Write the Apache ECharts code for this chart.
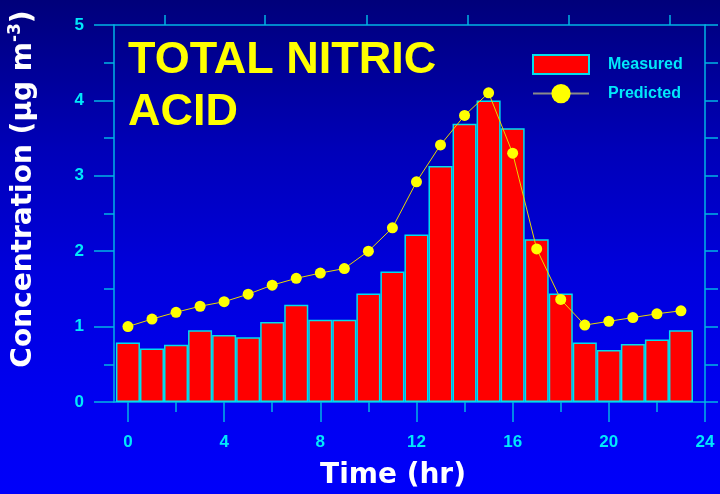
<!DOCTYPE html>
<html>
<head>
<meta charset="utf-8">
<script src="https://cdn.jsdelivr.net/npm/echarts@6/dist/echarts.min.js"></script>
<style>
  html, body { margin: 0; padding: 0; }
  #chart {
    width: 720px; height: 494px;
    background: linear-gradient(to bottom, #00007a 0%, #0000b8 30%, #0000dc 55%, #0000f0 80%, #0000fa 100%);
  }
</style>
</head>
<body>
<div id="chart"></div>
<script>
// Hourly total nitric acid concentration (µg m-3)
const hours = [0,1,2,3,4,5,6,7,8,9,10,11,12,13,14,15,16,17,18,19,20,21,22,23];
const measured = [0.79,0.71,0.76,0.95,0.89,0.86,1.06,1.29,1.09,1.09,1.44,1.73,2.22,3.13,3.69,4.00,3.63,2.16,1.44,0.79,0.69,0.77,0.83,0.95];
const predicted = [1.00,1.10,1.19,1.27,1.33,1.43,1.55,1.64,1.71,1.77,2.00,2.31,2.92,3.41,3.80,4.10,3.30,2.03,1.36,1.02,1.07,1.12,1.17,1.21];

// Axis tick positions (hours)
const xMajorTicks = [0,4,8,12,16,20,24];
const xMinorTicks = [2,6,10,14,18,22];
const xTopTicks = [1.51,5.71,9.92,14.12,18.32,22.52];

const AXIS = '#00b4e4';
const LABEL = '#00e8fa';
const X_MIN = -0.58, X_MAX = 24;

const chart = echarts.init(document.getElementById('chart'), null, { renderer: 'canvas' });

const tickFont = { color: LABEL, fontFamily: 'Liberation Sans, Arial, sans-serif', fontWeight: 'bold', fontSize: 17 };
const legendText = { color: LABEL, fontFamily: 'Liberation Sans, Arial, sans-serif', fontWeight: 'bold', fontSize: 16, padding: [0, 0, 0, 14] };

chart.setOption({
  backgroundColor: 'transparent',
  animation: false,
  grid: { left: 114, right: 15, top: 25, bottom: 92, containLabel: false },
  xAxis: [
    {
      type: 'value', position: 'bottom', min: X_MIN, max: X_MAX,
      axisLine: { show: true, onZero: false, lineStyle: { color: AXIS, width: 1.5 } },
      axisTick: { show: true, inside: false, customValues: xMajorTicks, length: 20, lineStyle: { color: AXIS, width: 1.5 } },
      axisLabel: Object.assign({ customValues: xMajorTicks, margin: 32 }, tickFont),
      splitLine: { show: false }
    },
    {
      type: 'value', position: 'bottom', min: X_MIN, max: X_MAX,
      axisLine: { show: false, onZero: false },
      axisTick: { show: true, inside: false, customValues: xMinorTicks, length: 10, lineStyle: { color: AXIS, width: 1.5 } },
      axisLabel: { show: false },
      splitLine: { show: false }
    },
    {
      type: 'value', position: 'top', min: X_MIN, max: X_MAX,
      axisLine: { show: true, onZero: false, lineStyle: { color: AXIS, width: 1.5 } },
      axisTick: { show: true, inside: false, customValues: xTopTicks, length: 10, lineStyle: { color: AXIS, width: 1.5 } },
      axisLabel: { show: false },
      splitLine: { show: false }
    }
  ],
  yAxis: [
    {
      type: 'value', position: 'left', min: 0, max: 5, interval: 1,
      axisLine: { show: true, onZero: false, lineStyle: { color: AXIS, width: 1.5 } },
      axisTick: { show: true, inside: false, length: 20, lineStyle: { color: AXIS, width: 1.5 } },
      minorTick: { show: true, splitNumber: 2, length: 10, lineStyle: { color: AXIS, width: 1.5 } },
      axisLabel: Object.assign({ margin: 30 }, tickFont),
      splitLine: { show: false }, minorSplitLine: { show: false }
    },
    {
      type: 'value', position: 'right', min: 0, max: 5, interval: 0.5,
      axisLine: { show: true, onZero: false, lineStyle: { color: AXIS, width: 1.5 } },
      axisTick: { show: true, inside: false, length: 13, lineStyle: { color: AXIS, width: 1.5 } },
      axisLabel: { show: false },
      splitLine: { show: false }
    }
  ],
  legend: [
    {
      data: [{ name: 'Measured', icon: 'rect' }], orient: 'vertical', left: 532, top: 54, padding: 0,
      itemWidth: 56, itemHeight: 19,
      textStyle: legendText
    },
    {
      data: [{ name: 'Predicted', lineStyle: { color: '#8a8a8a', width: 2 } }],
      orient: 'vertical', left: 532, top: 84, padding: 0,
      itemWidth: 56, itemHeight: 24,
      textStyle: legendText
    }
  ],
  graphic: [
    {
      type: 'text', left: 128, top: 35, z: 100,
      style: {
        text: 'TOTAL NITRIC\nACID', fill: '#ffff00',
        font: 'bold 45px "Liberation Sans", Arial, sans-serif', lineHeight: 52
      }
    },
    {
      type: 'text', x: 24, y: 189, rotation: Math.PI / 2, z: 100,
      style: {
        text: 'Concentration (µg m{sup|-3})', fill: '#ffffff',
        font: 'bold 28px "DejaVu Sans", sans-serif', align: 'center', verticalAlign: 'middle',
        rich: { sup: { fill: '#ffffff', fontFamily: 'DejaVu Sans', fontWeight: 'bold', fontSize: 17, verticalAlign: 'top', lineHeight: 34 } }
      }
    },
    {
      type: 'text', x: 393, y: 476, z: 100,
      style: {
        text: 'Time (hr)', fill: '#ffffff',
        font: 'bold 28px "DejaVu Sans", sans-serif', align: 'center', verticalAlign: 'middle'
      }
    }
  ],
  series: [
    {
      name: 'Measured', type: 'bar', xAxisIndex: 0, yAxisIndex: 0,
      data: hours.map((h, i) => [h, measured[i]]),
      barWidth: '100%',
      itemStyle: { color: '#ff0000', borderColor: '#00e0ec', borderWidth: 1.5 },
      z: 2
    },
    {
      name: 'Predicted', type: 'line', xAxisIndex: 0, yAxisIndex: 0,
      data: hours.map((h, i) => [h, predicted[i]]),
      symbol: 'circle', symbolSize: 11,
      itemStyle: { color: '#ffff00' },
      lineStyle: { color: '#e8d800', width: 1 },
      z: 5
    }
  ]
});
</script>
</body>
</html>
